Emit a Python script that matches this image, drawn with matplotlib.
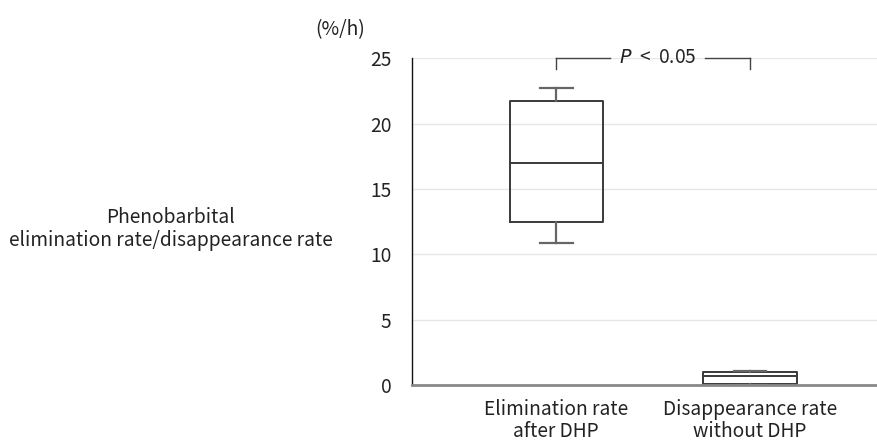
import numpy as np
import matplotlib.pyplot as plt

plt.rcParams['font.family'] = ['Noto Sans CJK JP', 'DejaVu Sans']
plt.rcParams['mathtext.fontset'] = 'custom'
plt.rcParams['mathtext.it'] = 'DejaVu Sans:italic'
plt.rcParams['mathtext.rm'] = 'Noto Sans CJK JP'

categories = ["Elimination rate\nafter DHP", "Disappearance rate\nwithout DHP"]
whis_low = [10.85, 0.0]
q1 = [12.5, 0.1]
median = [17.0, 0.65]
q3 = [21.7, 1.0]
whis_high = [22.7, 1.1]
y_ticks = [0, 5, 10, 15, 20, 25]

fs = 13.8
txt = "#222222"

fig = plt.figure(figsize=(8.77, 4.44), dpi=100)
ax = fig.add_axes([0.47, 0.133, 0.53, 0.736])

stats = []
for i in range(len(categories)):
    stats.append(dict(whislo=whis_low[i], q1=q1[i], med=median[i],
                      q3=q3[i], whishi=whis_high[i], fliers=[]))

edge = "#3a3a3a"
ax.bxp(stats, positions=range(len(categories)), widths=0.48,
       showfliers=False, patch_artist=False,
       boxprops=dict(color=edge, linewidth=1.4),
       medianprops=dict(color=edge, linewidth=1.4),
       whiskerprops=dict(color="#666666", linewidth=1.6),
       capprops=dict(color="#666666", linewidth=1.6),
       capwidths=0.17)

ax.set_xlim(-0.742, 1.655)
ax.set_ylim(0, 25)
ax.set_yticks(y_ticks)
ax.set_xticks(range(len(categories)))
ax.set_xticklabels(categories, fontsize=fs, color=txt, linespacing=1.1)
ax.tick_params(axis='y', length=0, pad=15, labelsize=fs, labelcolor=txt)
ax.tick_params(axis='x', length=0, pad=10)
ax.grid(axis='y', color="#e6e6e6", linewidth=1.0)
ax.set_axisbelow(True)
for s in ['top', 'right']:
    ax.spines[s].set_visible(False)
ax.spines['left'].set_color("#111111")
ax.spines['left'].set_linewidth(1.0)
ax.spines['bottom'].set_color("#888888")
ax.spines['bottom'].set_linewidth(2.0)

# significance bracket
by = 25.05
ax.plot([0, 0], [24.2, by], color="#444444", lw=1.0, clip_on=False)
ax.plot([1, 1], [24.2, by], color="#444444", lw=1.0, clip_on=False)
ax.plot([0, 0.28], [by, by], color="#444444", lw=1.0, clip_on=False)
ax.plot([0.77, 1], [by, by], color="#444444", lw=1.0, clip_on=False)
ax.text(0.525, by, "$P$  <  0.05", ha='center', va='center', fontsize=fs, color=txt)

fig.text(340 / 877, 1 - 30 / 444, "(%/h)", ha='center', va='center',
         fontsize=fs, color=txt)
fig.text(171 / 877, 1 - 229 / 444,
         "Phenobarbital\nelimination rate/disappearance rate",
         ha='center', va='center', fontsize=fs, color=txt, linespacing=1.15)

fig.savefig("out.png", dpi=100)
